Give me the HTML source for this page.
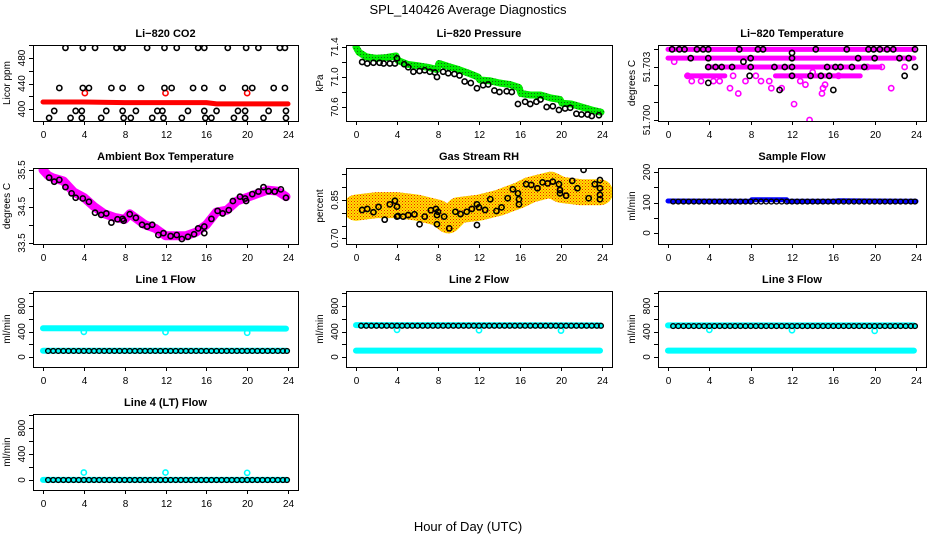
<!DOCTYPE html>
<html><head><meta charset="utf-8"><style>
html,body{margin:0;padding:0;background:#fff;}
svg{display:block;font-family:"Liberation Sans",Arial,sans-serif;}
</style></head><body>
<svg id="chart" width="936" height="540" viewBox="0 0 936 540" xmlns="http://www.w3.org/2000/svg">
<defs>
<pattern id="chk" width="3" height="3" patternUnits="userSpaceOnUse"><rect width="3" height="3" fill="#ffe000"/><rect width="1" height="1" fill="#f02000"/><rect x="1.5" y="1.5" width="1" height="1" fill="#f05000"/></pattern>
<pattern id="grn" width="3" height="3" patternUnits="userSpaceOnUse"><rect width="3" height="3" fill="#00ee00"/><rect width="1" height="1" fill="#116611"/></pattern>
</defs>
<text x="468" y="14" font-size="13" text-anchor="middle">SPL_140426  Average Diagnostics</text>
<text x="468" y="531" font-size="13" text-anchor="middle">Hour of Day (UTC)</text>
</svg>
<script>
// ---------- data ----------
const xTicks=[0,4,8,12,16,20,24];
const HH=[0.5,1,1.5,2,2.5,3,3.5,4,4.5,5,5.5,6,6.5,7,7.5,8,8.5,9,9.5,10,10.5,11,11.5,12,12.5,13,13.5,14,14.5,15,15.5,16,16.5,17,17.5,18,18.5,19,19.5,20,20.5,21,21.5,22,22.5,23,23.5,23.9];
// CO2
const co2BandHours=[0,4,8,12,16,17,20,24];
const co2BandVals=[411,411,410,410,410,408,408,408];
const co2RedOutH=[4.1,12,20];
const co2RedOutV=[425,425,425];
const co2BlackH=[2.2,3.9,5.1,7.2,7.8,10.2,11.9,13.1,15.2,15.8,18.1,19.9,21.1,23.2,23.7,1.6,3.9,4.5,6.7,7.8,9.6,11.9,12.6,14.7,15.8,17.6,19.8,20.5,22.6,23.7,1.1,3.2,3.8,6.2,7.8,9.1,11.2,11.7,14.2,15.8,17.0,19.1,19.8,22.1,23.8,0.6,2.7,3.8,5.7,7.9,8.6,10.7,11.8,13.6,15.9,16.5,18.7,19.8,21.6,23.8];
const co2BlackV=[496,496,496,496,496,496,496,496,496,496,496,496,496,496,496,433,433,433,433,433,433,433,433,433,433,433,433,433,433,433,397,397,397,397,397,397,397,397,397,397,397,397,397,397,397,386,386,386,386,386,386,386,386,386,386,386,386,386,386,386];
// Pressure
const presBandH=[0,0.3,1,2,3,3.9,4.1,5,6,7,7.9,8.1,9,10,11,11.9,12.1,13,14,15,15.9,16.1,17,18,19,19.9,20.1,21,22,23,23.9];
const presBandV=[71.40,71.33,71.27,71.25,71.26,71.28,71.22,71.17,71.15,71.13,71.10,71.18,71.14,71.10,71.05,71.0,70.96,70.95,70.92,70.90,70.86,70.78,70.76,70.76,70.72,70.70,70.65,70.64,70.60,70.56,70.53];
const presBlackH=[0.6,1.1,1.7,2.3,2.7,3.3,3.8,4.0,4.7,5.1,5.6,6.2,6.7,7.2,7.7,7.9,8.5,9.0,9.6,10.1,10.6,11.2,11.8,12.4,12.9,13.5,14.0,14.7,15.2,15.8,16.5,17.0,17.6,18.0,18.6,19.2,19.8,20.4,20.9,21.5,22.0,22.6,23.0,23.7];
const presBlackV=[71.20,71.18,71.19,71.19,71.18,71.18,71.18,71.25,71.17,71.13,71.07,71.08,71.09,71.07,71.06,71.00,71.07,71.05,71.04,71.02,70.94,70.92,70.85,70.89,70.90,70.82,70.80,70.81,70.80,70.64,70.67,70.64,70.67,70.70,70.60,70.61,70.56,70.58,70.59,70.51,70.50,70.50,70.48,70.49];
// Li-820 temperature
const tRowStart=[0,0,3.8,10.4,1.8];
const tRowEnd=[23.8,23.8,20.5,18.6,5.5];
const tRowLevel=[51.704,51.7035,51.703,51.7025,51.7025];
const tMagH=[12.2,13.7,6.8,14.9,21.6,2.3,5.0,6.0,9.0,10.0,11.0,1.9,3.2,4.4,7.5,12.8,15.2,0.6,8.5,9.8,14.0,16.5,19.3,20.7,22.9,6.3,13.3,15.0];
const tMagV=[51.7009,51.7000,51.7015,51.7015,51.7018,51.7022,51.7022,51.7018,51.7022,51.7018,51.7018,51.7025,51.7022,51.7022,51.7022,51.7022,51.7020,51.7033,51.7025,51.7022,51.7027,51.7025,51.7030,51.7030,51.7030,51.7025,51.7020,51.7018];
const tBlackH=[0.4,1.1,1.6,2.8,3.4,3.9,6.9,8.7,9.2,14.3,17.3,19.4,19.9,20.5,21.2,21.8,23.9,2.2,3.9,8.0,12.0,18.4,20.0,22.4,23.3,3.9,4.6,5.2,6.2,8.0,10.3,11.3,12.0,15.4,16.2,16.7,17.8,19.0,23.9,7.3,12.0,7.9,12.0,13.8,14.8,15.6,22.9,3.9,10.8,16.0];
const tBlackV=[51.704,51.704,51.704,51.704,51.704,51.704,51.704,51.704,51.704,51.704,51.704,51.704,51.704,51.704,51.704,51.704,51.704,51.7035,51.7035,51.7035,51.7035,51.7035,51.7035,51.7035,51.7035,51.703,51.703,51.703,51.703,51.703,51.703,51.703,51.703,51.703,51.703,51.703,51.703,51.703,51.703,51.7033,51.7038,51.7025,51.7025,51.7025,51.7025,51.7025,51.7025,51.7021,51.7017,51.7017];
// Ambient box temperature
const ambBandH=[0,0.5,1,2,3,4,5,6,7,8,8.5,9,10,11,12,13,14,15,16,17,18,19,20,21,22,23,23.8];
const ambBandV=[35.5,35.35,35.28,35.2,34.9,34.75,34.5,34.3,34.2,34.15,34.3,34.2,34.0,33.9,33.7,33.7,33.7,33.8,34.0,34.35,34.4,34.65,34.75,34.85,34.95,34.92,34.77];
const ambBlackH=[0.6,1.1,1.6,2.2,2.8,3.2,3.9,4.5,5.1,5.7,6.2,6.7,7.3,7.8,7.9,8.5,9.1,9.7,10.2,10.7,11.3,11.8,12.5,13.1,13.6,14.2,14.8,15.2,15.8,15.8,16.5,17.1,17.6,18.2,18.6,19.3,19.8,19.9,20.5,21.1,21.6,22.1,22.7,23.3,23.8];
const ambBlackV=[35.29,35.18,35.23,35.03,34.86,34.74,34.72,34.63,34.33,34.27,34.31,34.06,34.15,34.16,34.11,34.29,34.19,34.0,33.95,34.0,33.72,33.77,33.69,33.72,33.61,33.67,33.74,33.90,33.95,33.77,34.16,34.38,34.31,34.40,34.65,34.77,34.72,34.65,34.84,34.91,35.03,34.92,34.91,34.97,34.74];
// Gas stream RH
const rhBandH=[0,2,4,6,8,9,10,12,14,16,17,18,19,20,22,23.8];
const rhBandV=[0.82,0.83,0.83,0.82,0.80,0.77,0.81,0.82,0.84,0.87,0.89,0.90,0.91,0.89,0.88,0.88];
const rhBlackH=[0.6,1.1,1.7,2.2,2.8,3.3,3.8,4.0,4.0,4.1,4.6,5.1,5.7,6.2,6.7,7.3,7.8,7.9,7.9,8.0,8.6,9.1,9.7,10.2,10.8,11.3,11.8,11.8,12.0,12.6,13.1,13.7,14.2,14.8,15.3,15.8,15.9,15.9,16.6,17.1,17.7,18.2,18.7,19.2,19.8,19.9,19.9,20.5,21.1,21.6,22.2,22.7,23.3,23.8,23.8,23.8,23.8];
const rhBlackV=[0.811,0.815,0.802,0.823,0.773,0.833,0.847,0.824,0.785,0.787,0.785,0.791,0.794,0.755,0.785,0.810,0.815,0.791,0.755,0.804,0.785,0.739,0.804,0.795,0.804,0.815,0.833,0.752,0.821,0.811,0.853,0.807,0.821,0.857,0.892,0.876,0.833,0.853,0.912,0.909,0.896,0.919,0.915,0.922,0.912,0.876,0.889,0.867,0.925,0.896,0.968,0.857,0.912,0.896,0.928,0.870,0.853];
// Sample flow
const sfBandH=[0,8,8.1,11.5,11.6,16,16.5,24];
const sfBandV=[105,104,109,109,104,104,106,104];
const sfBlack=[103,103,103,103,103,103,103,103,103,103,103,103,103,103,103,103,103,103,103,103,103,103,103,103,103,103,103,103,103,103,103,103,103,103,103,103,103,103,103,103,103,103,103,103,103,103,103,103];
// Line flows
const flatH=[0,23.8];
const l1CyanHi=[450,445];
const l1CyanLo=[97,97];
const l1Black=[95,95,95,95,95,95,95,95,95,95,95,95,95,95,95,95,95,95,95,95,95,95,95,95,95,95,95,95,95,95,95,95,95,95,95,95,95,95,95,95,95,95,95,95,95,95,95,95];
const l1OutH=[4,12,20];
const l1OutV=[395,390,380];
const l2CyanHi=[500,495];
const l2CyanLo=[100,100];
const l2Black=[490,490,490,490,490,490,490,490,490,490,490,490,490,490,490,490,490,490,490,490,490,490,490,490,490,490,490,490,490,490,490,490,490,490,490,490,490,490,490,490,490,490,490,490,490,490,490,490];
const l2OutH=[4,12,20];
const l2OutV=[425,420,415];
const l3CyanHi=[495,495];
const l3CyanLo=[100,100];
const l3Black=[485,485,485,485,485,485,485,485,485,485,485,485,485,485,485,485,485,485,485,485,485,485,485,485,485,485,485,485,485,485,485,485,485,485,485,485,485,485,485,485,485,485,485,485,485,485,485,485];
const l3OutH=[4,12,20];
const l3OutV=[425,420,410];
const l4CyanLo=[2,2];
const l4Black=[0,0,0,0,0,0,0,0,0,0,0,0,0,0,0,0,0,0,0,0,0,0,0,0,0,0,0,0,0,0,0,0,0,0,0,0,0,0,0,0,0,0,0,0,0,0,0,0];
const l4OutH=[4,12,20];
const l4OutV=[115,115,110];

// ---------- drawing ----------
const NS='http://www.w3.org/2000/svg';
const svg=document.getElementById('chart');
function mk(tag,attrs,parent){const e=document.createElementNS(NS,tag);for(const k in attrs)e.setAttribute(k,attrs[k]);(parent||svg).appendChild(e);return e;}

function panel(name,title,ylabel,bx,by,bw,bh,v1,p1,v2,p2,yticks,ylabels){
  const g=mk('g',{});
  
  
  const sx=h=>bx+10+h*(bw-20)/24;
  const sy=v=>p1+(v-v1)*(p2-p1)/(v2-v1);
  const clip=mk('clipPath',{id:'c-'+name},g);
  mk('rect',{x:bx,y:by,width:bw,height:bh},clip);
  const plot=mk('g',{'clip-path':'url(#c-'+name+')'},g);
  
  
  const t=mk('text',{x:bx+bw/2,y:by-8,'font-size':11,'font-weight':'bold','text-anchor':'middle'},g);
  t.textContent=title;
  
  
  const yl=mk('text',{x:0,y:0,'font-size':10,'text-anchor':'middle',transform:`translate(${bx-23},${by+bh/2}) rotate(-90)`},g);
  yl.textContent=ylabel;
  
  
  const box=mk('rect',{x:bx+0.5,y:by+0.5,width:bw,height:bh,fill:'none',stroke:'#000','stroke-width':1},g);
  
  
  xTicks.forEach(h=>{
    const x=Math.round(sx(h))+0.5;
    mk('line',{x1:x,x2:x,y1:by+bh,y2:by+bh+4,stroke:'#000'},g);
    const tx=mk('text',{x:x,y:by+bh+17,'font-size':10,'text-anchor':'middle'},g);
    tx.textContent=h;
    
    
  });
  yticks.forEach(v=>{
    const y=Math.round(sy(v))+0.5;
    mk('line',{x1:bx-4,x2:bx,y1:y,y2:y,stroke:'#000'},g);
  });
  ylabels.forEach(v=>{
    const y=sy(v);
    const tx=mk('text',{x:0,y:0,'font-size':10,'text-anchor':'middle',transform:`translate(${bx-8},${y}) rotate(-90)`},g);
    tx.textContent=v;
    
    
  });
  return {sx,sy,plot};
}
function band(P,hs,vs,color,w,name){
  const pts=hs.map((h,i)=>P.sx(h).toFixed(1)+','+P.sy(vs[i]).toFixed(1)).join(' ');
  const e=mk('polyline',{points:pts,fill:'none',stroke:color,'stroke-width':w,'stroke-linecap':'round','stroke-linejoin':'round'},P.plot);
  
  
}
function pts(P,hs,vs,color,name,r,sw){
  hs.forEach((h,i)=>{
    const c=mk('circle',{cx:P.sx(h),cy:P.sy(vs[i]),r:r||2.6,fill:'none',stroke:color,'stroke-width':sw||1.6},P.plot);
    
    
  });
}
function seg(P,s,e,lv,color,w,name){
  s.forEach((st,i)=>{
    const l=mk('line',{x1:P.sx(st),x2:P.sx(e[i]),y1:P.sy(lv[i]),y2:P.sy(lv[i]),stroke:color,'stroke-width':w,'stroke-linecap':'round'},P.plot);
    
    
  });
}

// Row 1
let P=panel('co2','Li\u2212820 CO2','Licor ppm',33,45,265,76,400,109,480,58,[400,420,440,460,480,500],[400,440,480]);
band(P,co2BandHours,co2BandVals,'#ff0000',5,'co2-red-band');
pts(P,co2RedOutH,co2RedOutV,'#ff0000','co2-red-point');
pts(P,co2BlackH,co2BlackV,'#000','co2-black-point');

P=panel('pressure','Li\u2212820 Pressure','kPa',346,45,266,76,71.4,47,70.6,107,[70.6,70.8,71.0,71.2,71.4],['70.6','71.0','71.4']);
band(P,presBandH,presBandV,'url(#grn)',7,'pressure-green-band');
pts(P,presBlackH,presBlackV,'#000','pressure-black-point');

P=panel('li820-temp','Li\u2212820 Temperature','degrees C',658,45,268,76,51.700,120,51.703,67,[51.700,51.701,51.702,51.703,51.704],['51.700','51.703']);
seg(P,tRowStart,tRowEnd,tRowLevel,'#ff00ff',5,'temp-magenta-row');
pts(P,tMagH,tMagV,'#ff00ff','temp-magenta-point');
pts(P,tBlackH,tBlackV,'#000','temp-black-point');

// Row 2
P=panel('ambient','Ambient Box Temperature','degrees C',33,168,265,76,35.5,170,33.5,243,[33.5,34,34.5,35,35.5],['33.5','34.5','35.5']);
band(P,ambBandH,ambBandV,'#ff00ff',9,'ambient-magenta-band');
pts(P,ambBlackH,ambBlackV,'#000','ambient-black-point');

P=panel('rh','Gas Stream RH','percent',346,168,266,76,0.85,200,0.70,238.3,[0.70,0.75,0.80,0.85,0.90,0.95],['0.70','0.85']);
band(P,rhBandH,rhBandV,'url(#chk)',26,'rh-band');
pts(P,rhBlackH,rhBlackV,'#000','rh-black-point');

P=panel('sample-flow','Sample Flow','ml/min',658,168,268,76,0,233,200,172,[0,50,100,150,200],[0,100,200]);
band(P,sfBandH,sfBandV,'#0000ff',5,'sample-flow-blue-band');
pts(P,HH,sfBlack,'#000','sample-flow-black-point',2.4,1.4);

// Row 3
const fT=[0,200,400,600,800,1000], fL=[0,400,800];
P=panel('line1','Line 1 Flow','ml/min',33,291,265,76,0,357,800,306,fT,fL);
band(P,flatH,l1CyanHi,'#00ffff',6,'line1-cyan-high');
band(P,flatH,l1CyanLo,'#00ffff',6,'line1-cyan-low');
pts(P,l1OutH,l1OutV,'#00ffff','line1-cyan-point');
pts(P,HH,l1Black,'#000','line1-black-point',2.4,1.4);

P=panel('line2','Line 2 Flow','ml/min',346,291,266,76,0,357,800,306,fT,fL);
band(P,flatH,l2CyanHi,'#00ffff',6,'line2-cyan-high');
band(P,flatH,l2CyanLo,'#00ffff',6,'line2-cyan-low');
pts(P,l2OutH,l2OutV,'#00ffff','line2-cyan-point');
pts(P,HH,l2Black,'#000','line2-black-point',2.4,1.4);

P=panel('line3','Line 3 Flow','ml/min',658,291,268,76,0,357,800,306,fT,fL);
band(P,flatH,l3CyanHi,'#00ffff',6,'line3-cyan-high');
band(P,flatH,l3CyanLo,'#00ffff',6,'line3-cyan-low');
pts(P,l3OutH,l3OutV,'#00ffff','line3-cyan-point');
pts(P,HH,l3Black,'#000','line3-black-point',2.4,1.4);

// Row 4
P=panel('line4','Line 4 (LT) Flow','ml/min',33,414,265,76,0,480,800,428,fT,fL);
band(P,flatH,l4CyanLo,'#00ffff',6,'line4-cyan-low');
pts(P,l4OutH,l4OutV,'#00ffff','line4-cyan-point');
pts(P,HH,l4Black,'#000','line4-black-point',2.4,1.4);
</script>
</body></html>
